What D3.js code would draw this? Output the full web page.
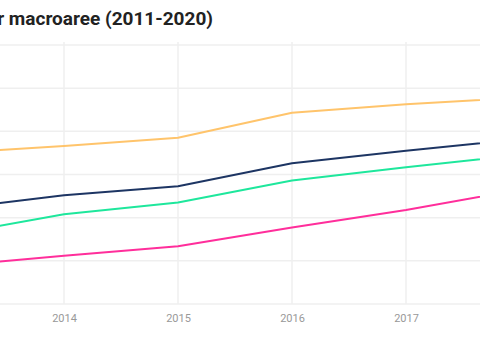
<!DOCTYPE html>
<html>
<head>
<meta charset="utf-8">
<script src="https://cdn.jsdelivr.net/npm/d3@7"></script>
<style>
html,body{margin:0;padding:0;background:#fff;overflow:hidden;}
svg{display:block;}
</style>
</head>
<body>
<svg id="chart" width="480" height="360"></svg>
<script>
// Data (in grid units; visible span 2013-2018)
const years = [2013, 2014, 2015, 2016, 2017, 2018];
const gridYears = [2013, 2014, 2015, 2016, 2017, 2018];
const labelYears = [2014, 2015, 2016, 2017];
const seriesYellow = [3.50, 3.66, 3.85, 4.43, 4.63, 4.78];
const seriesNavy   = [2.20, 2.52, 2.73, 3.26, 3.55, 3.82];
const seriesGreen  = [1.60, 2.08, 2.35, 2.86, 3.17, 3.45];
const seriesPink   = [0.88, 1.12, 1.34, 1.77, 2.18, 2.65];
const yTicks = [0, 1, 2, 3, 4, 5, 6];
const titleText = "r macroaree (2011-2020)";

const series = [
  {values: seriesYellow, color: "#ffc46b"},
  {values: seriesNavy, color: "#1d3563"},
  {values: seriesGreen, color: "#1ee79c"},
  {values: seriesPink, color: "#ff2e9b"}
];

const svg = d3.select("#chart");
const x = d3.scaleLinear().domain([2011, 2020]).range([-278, 748]);
const y = d3.scaleLinear().domain([0, 6]).range([304, 45]);

// horizontal gridlines
svg.append("g").selectAll("line").data(yTicks).join("line")
  .attr("x1", -300).attr("x2", 780)
  .attr("y1", d => y(d)).attr("y2", d => y(d))
  .attr("stroke", "#efefef").attr("stroke-width", 1.5);

// vertical gridlines
svg.append("g").selectAll("line").data(gridYears).join("line")
  .attr("x1", d => x(d)).attr("x2", d => x(d))
  .attr("y1", 42).attr("y2", 304)
  .attr("stroke", "#efefef").attr("stroke-width", 1.5);

// x axis labels
const xAxis = d3.axisBottom(x).tickValues(labelYears).tickFormat(d3.format("d")).tickSize(0).tickPadding(10);
const gx = svg.append("g").attr("transform", "translate(0,304)").call(xAxis);
gx.select(".domain").remove();
gx.selectAll("text").attr("fill", "#999").style("font-family", "Roboto, sans-serif").style("font-size", "11px");

// lines
const line = d3.line()
  .x((d, i) => x(years[i]))
  .y(d => y(d));

svg.append("g").selectAll("path").data(series).join("path")
  .attr("d", d => line(d.values))
  .attr("fill", "none")
  .attr("stroke", d => d.color)
  .attr("stroke-width", 2)
  .attr("stroke-linejoin", "round");

// title
svg.append("text")
  .attr("x", 213).attr("y", 25)
  .attr("text-anchor", "end")
  .attr("fill", "#222")
  .style("font-family", "Roboto, sans-serif")
  .style("font-weight", "bold")
  .style("font-size", "19px")
  .text(titleText);
</script>
</body>
</html>
